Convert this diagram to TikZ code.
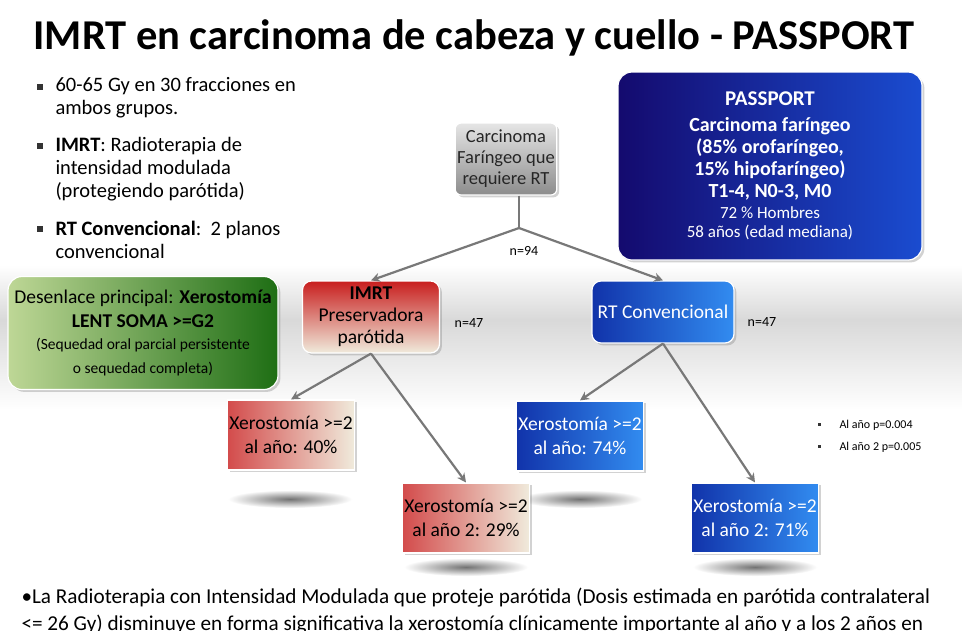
\documentclass[tikz,border=0pt]{standalone}
\usepackage{fontspec}
\setmainfont{Carlito}
\usetikzlibrary{shadows,arrows.meta}
\definecolor{dred}{RGB}{200,30,30}
\definecolor{cream}{RGB}{240,235,220}
\definecolor{dblue}{RGB}{20,10,110}
\definecolor{mblue}{RGB}{20,60,200}
\definecolor{lblue}{RGB}{50,140,240}
\definecolor{dgreen}{RGB}{30,110,20}
\definecolor{lgreen}{RGB}{190,215,150}
\definecolor{arr}{RGB}{120,120,120}
\begin{document}
\begin{tikzpicture}[x=1pt,y=-1pt,
  box/.style={draw=white,line width=1.2pt,align=center,inner sep=2pt,drop shadow={opacity=0.35}},
  redbox/.style={box,left color=dred!80,right color=cream},
  bluebox/.style={box,left color=mblue!85!black,right color=lblue,text=white},
  conn/.style={draw=arr,line width=2.2pt,-{Stealth[length=9pt,width=9pt]}},
  shad/.style={inner color=black!55,outer color=white}]
\useasboundingbox (0,0) rectangle (962,630);
\fill[white] (0,0) rectangle (962,630);
\shade[top color=white,bottom color=black!15] (0,265) rectangle (962,320);
\shade[top color=black!15,bottom color=white] (0,320) rectangle (962,410);
% shadows
\foreach \cx/\cy in {290/499,580/499,466/567,755/567}
  \shade[shad] (\cx,\cy) ellipse (62pt and 9pt);
\node[anchor=west,font=\bfseries\fontsize{42.5}{46}\selectfont] (title) at (30,38) {IMRT en carcinoma de cabeza y cuello - PASSPORT};
% left bullets
\begin{scope}[every node/.style={anchor=west,font=\fontsize{20.5}{23}\selectfont,align=left}]
\node (b1) at (52,98) {60-65 Gy en 30 fracciones en\\ambos grupos.};
\node (b2) at (52,169) {\textbf{IMRT}: Radioterapia de\\intensidad modulada\\(protegiendo parótida)};
\node (b3) at (52,240) {\textbf{RT Convencional}:\ \ 2 planos\\convencional};
\end{scope}
\foreach \y in {87,146,229} \fill[black!80] (37,\y-3) rectangle (43,\y+3);
% PASSPORT
\node[box,rounded corners=14pt,left color=dblue,right color=mblue!80!lblue,text=white,minimum width=304pt,minimum height=188pt,font=\bfseries\fontsize{20}{22}\selectfont] (pass) at (770,166) {\fontsize{21}{22}\selectfont PASSPORT\\[4pt]Carcinoma faríngeo\\(85\% orofaríngeo,\\15\% hipofaríngeo)\\T1-4, N0-3, M0\\[-1pt]{\mdseries\fontsize{17}{20}\selectfont 72 \% Hombres}\\[-3pt]{\mdseries\fontsize{17}{20}\selectfont 58 años (edad mediana)}};
% Carcinoma
\node[box,rounded corners=6pt,top color=black!10,bottom color=black!45,minimum width=94pt,minimum height=72pt,font=\fontsize{18.5}{21}\selectfont,text=black!85] (carc) at (506,159) {Carcinoma\\Faríngeo que\\requiere RT};
\coordinate (split) at (519,228);
% IMRT
\node[box,rounded corners=9pt,top color=dred,bottom color=cream,minimum width=137pt,minimum height=72pt,font=\fontsize{19.5}{22}\selectfont] (imrt) at (371,317) {\textbf{IMRT}\\Preservadora\\parótida};
\node[bluebox,rounded corners=9pt,minimum width=142pt,minimum height=62pt,font=\fontsize{19.5}{22}\selectfont] (rt) at (663,312) {RT Convencional};
% green
\node[box,rounded corners=14pt,left color=lgreen,right color=dgreen,minimum width=270pt,minimum height=113pt,font=\fontsize{19.5}{24}\selectfont] (green) at (143,333) {Desenlace principal: \textbf{Xerostomía}\\\textbf{LENT SOMA >=G2}\\[-2pt]{\fontsize{15.5}{21}\selectfont (Sequedad oral parcial persistente}\\{\fontsize{15.5}{21}\selectfont o sequedad completa)}};
% results
\begin{scope}[every node/.append style={minimum width=121pt,minimum height=70pt,font=\fontsize{19.5}{24}\selectfont}]
\node[redbox] (r1) at (291,435) {Xerostomía >=2\\al año: 40\%};
\node[redbox] (r2) at (466,518) {Xerostomía >=2\\al año 2: 29\%};
\node[bluebox] (c1) at (580,436) {Xerostomía >=2\\al año: 74\%};
\node[bluebox] (c2) at (755,518) {Xerostomía >=2\\al año 2: 71\%};
\end{scope}
% connectors
\draw[draw=arr,line width=2.2pt] (carc.south -| split) -- (split);
\draw[conn] (split) -- (imrt.north);
\draw[conn] (split) -- (rt.north);
\draw[conn] (imrt.south) -- (r1.north);
\draw[conn] (imrt.south) -- (r2.north);
\draw[conn] (rt.south) -- (c1.north);
\draw[conn] (rt.south) -- (c2.north);
\node[font=\fontsize{14}{16}\selectfont] (n94) at (524,251) {n=94};
\node[font=\fontsize{14}{16}\selectfont] (n1) at (469,323) {n=47};
\node[font=\fontsize{14}{16}\selectfont] (n2) at (762,322) {n=47};
\node[anchor=west,font=\fontsize{12}{22}\selectfont,align=left] (pv) at (836,436) {Al año p=0.004\\Al año 2 p=0.005};
\fill[black!80] (818,423) rectangle (821,426);
\fill[black!80] (818,445) rectangle (821,448);
\node[anchor=north west,font=\fontsize{21.2}{27}\selectfont,align=left] (bot) at (18,584) {•La Radioterapia con Intensidad Modulada que proteje parótida (Dosis estimada en parótida contralateral\\<= 26 Gy) disminuye en forma significativa la xerostomía clínicamente importante al año y a los 2 años en};
\end{tikzpicture}
\end{document}
